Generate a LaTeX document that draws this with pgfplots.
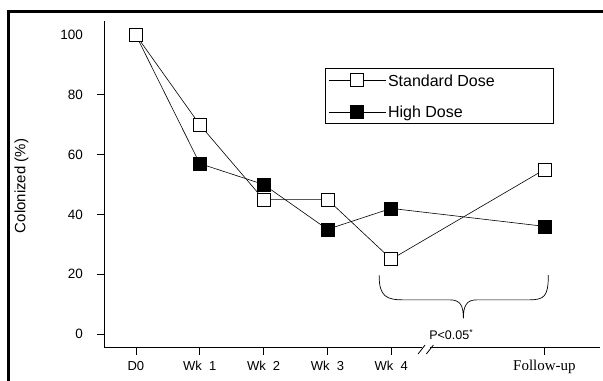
\documentclass[border=0pt]{standalone}
\usepackage{fontspec}
\setmainfont{Liberation Sans}
\newfontfamily\seriffont{Liberation Serif}
\usepackage{pgfplots}
\pgfplotsset{compat=1.18}
\newcommand{\tf}{\fontsize{13bp}{15bp}\selectfont}
\begin{document}
\begin{tikzpicture}
\path[use as bounding box] (0bp,0bp) rectangle (603bp,381bp);
\draw[line width=2.7bp] (8.3bp,0bp) -- (8.3bp,369.3bp) -- (603bp,369.3bp);
\begin{axis}[
  at={(104bp,33.3bp)}, anchor=south west,
  scale only axis, width=496bp, height=327bp,
  xmin=-0.5, xmax=7.27, ymin=-4.6, ymax=104.8,
  clip=false,
  axis x line=bottom, axis y line=left,
  axis line style={-, line width=0.9bp, black},
  tick align=outside, major tick length=7bp,
  tick style={line width=0.8bp, black},
  xtick={0,1,2,3,4,6.4},
  xticklabels={{\tf D0}, {\tf Wk\hspace{0.55em}1}, {\tf Wk\hspace{0.55em}2}, {\tf Wk\hspace{0.55em}3}, {\tf Wk\hspace{0.55em}4}, {\seriffont\fontsize{15bp}{17bp}\selectfont Follow-up}},
  xticklabel style={anchor=base, inner sep=0pt, yshift=-16bp},
  ytick={0,20,40,60,80},
  extra y ticks={100},
  extra y tick style={tick style={draw=none}},
  yticklabel={\fontsize{13.5bp}{15bp}\selectfont\pgfmathprintnumber{\tick}},
  yticklabel style={anchor=east, inner sep=0pt, xshift=-14bp},
  /pgf/number format/assume math mode=true,
  ylabel={\fontsize{15bp}{17bp}\selectfont Colonized (\%)},
  ylabel style={at={(axis description cs:-0.1663,0.4945)}, anchor=center, inner sep=0pt},
  legend style={at={(0.4456,0.8563)}, anchor=north west, draw=black, line width=0.8bp,
    font=\fontsize{16bp}{18bp}\selectfont, inner xsep=3bp, inner ysep=3bp, row sep=14bp},
  legend image code/.code={\draw[#1, mark repeat=2, mark phase=2] plot coordinates {(0bp,0bp) (28.5bp,0bp) (57bp,0bp)};},
  legend cell align=left,
  legend reversed,
]
\addplot[black, line width=0.6bp, mark=square*, mark size=6.5bp, mark options={fill=black, draw=black, line width=0.6bp}]
  coordinates {(0,100) (1,57) (2,50) (3,35) (4,42) (6.4,36)};
\addlegendentry{\makebox[160bp][l]{High Dose\rule[-10bp]{0pt}{11bp}}}
\addplot[black, line width=0.6bp, mark=square*, mark size=6.5bp, mark options={fill=white, draw=black, line width=0.8bp}]
  coordinates {(0,100) (1,70) (2,45) (3,45) (4,25) (6.4,55)};
\addlegendentry{\makebox[160bp][l]{Standard Dose\rule{0pt}{13bp}}}

% brace
\draw[black, line width=0.7bp] (axis cs:3.81,19.7) .. controls (axis cs:3.81,12.5) and (axis cs:3.92,11.4) .. (axis cs:4.2,11.4)
  -- (axis cs:4.92,11.4) .. controls (axis cs:5.08,11.4) and (axis cs:5.13,9.5) .. (axis cs:5.13,5.25)
  .. controls (axis cs:5.13,9.5) and (axis cs:5.18,11.4) .. (axis cs:5.34,11.4)
  -- (axis cs:6.15,11.4) .. controls (axis cs:6.4,11.4) and (axis cs:6.46,12.5) .. (axis cs:6.46,19.7);
\node[font=\fontsize{12.5bp}{14bp}\selectfont, anchor=center] at (axis cs:4.94,-0.2) {P<0.05\textsuperscript{*}};
% axis break
\fill[white] (axis cs:4.48,-6) rectangle (axis cs:4.6,-3.5);
\draw[black, line width=0.8bp] (axis cs:4.42,-6.7) -- (axis cs:4.53,-3.7);
\draw[black, line width=0.8bp] (axis cs:4.55,-6.7) -- (axis cs:4.66,-3.7);
\end{axis}
\end{tikzpicture}
\end{document}
